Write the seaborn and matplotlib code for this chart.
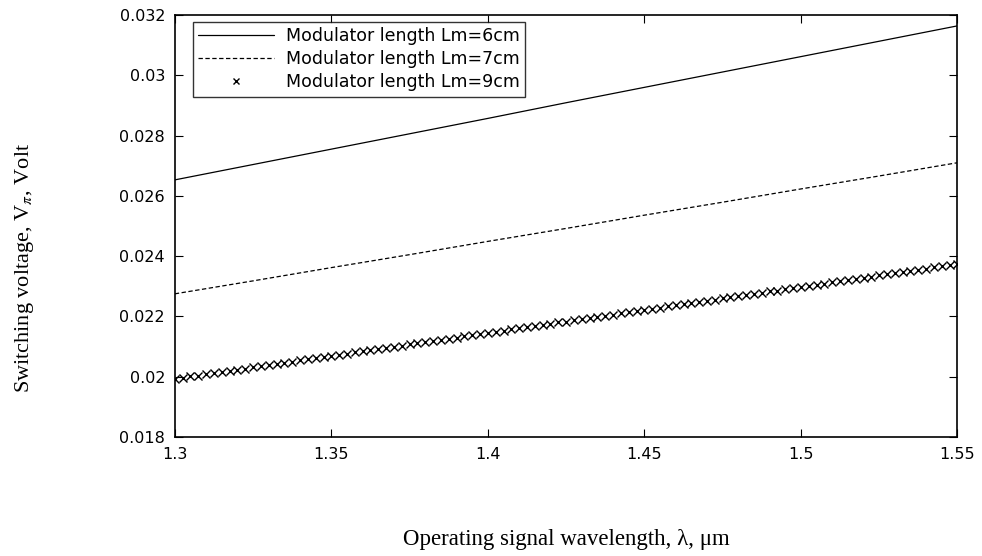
import seaborn as sns
import pandas as pd
import matplotlib.pyplot as plt
import numpy as np

# knot values (wavelength in um, voltage in V)
wl_knots = [1.300, 1.325, 1.350, 1.375, 1.400, 1.425, 1.450, 1.475, 1.500, 1.525, 1.550]
v_6cm = [0.02653, 0.02704, 0.02755, 0.02806, 0.02857, 0.02909, 0.02960, 0.03011, 0.03062, 0.03113, 0.03164]
v_7cm = [0.02275, 0.02318, 0.02362, 0.02405, 0.02449, 0.02492, 0.02536, 0.02579, 0.02623, 0.02666, 0.02710]

# the 9cm curve is sampled densely (markers every 0.0025 um)
wl_dense = np.linspace(1.3, 1.55, 101)
v_9cm = [0.01993, 0.01997, 0.02001, 0.02004, 0.02008, 0.02012, 0.02016, 0.02020, 0.02023, 0.02027,
         0.02031, 0.02035, 0.02039, 0.02043, 0.02046, 0.02050, 0.02054, 0.02058, 0.02062, 0.02065,
         0.02069, 0.02073, 0.02077, 0.02081, 0.02084, 0.02088, 0.02092, 0.02096, 0.02100, 0.02103,
         0.02107, 0.02111, 0.02115, 0.02119, 0.02123, 0.02126, 0.02130, 0.02134, 0.02138, 0.02142,
         0.02145, 0.02149, 0.02153, 0.02157, 0.02161, 0.02164, 0.02168, 0.02172, 0.02176, 0.02180,
         0.02183, 0.02187, 0.02191, 0.02195, 0.02199, 0.02203, 0.02206, 0.02210, 0.02214, 0.02218,
         0.02222, 0.02225, 0.02229, 0.02233, 0.02237, 0.02241, 0.02244, 0.02248, 0.02252, 0.02256,
         0.02260, 0.02264, 0.02267, 0.02271, 0.02275, 0.02279, 0.02283, 0.02286, 0.02290, 0.02294,
         0.02298, 0.02302, 0.02305, 0.02309, 0.02313, 0.02317, 0.02321, 0.02324, 0.02328, 0.02332,
         0.02336, 0.02340, 0.02344, 0.02347, 0.02351, 0.02355, 0.02359, 0.02363, 0.02366, 0.02370,
         0.02374]

labels = ["Modulator length Lm=6cm", "Modulator length Lm=7cm", "Modulator length Lm=9cm"]
xticks = [1.3, 1.35, 1.4, 1.45, 1.5, 1.55]
xtick_labels = ["1.3", "1.35", "1.4", "1.45", "1.5", "1.55"]
yticks = [0.018, 0.02, 0.022, 0.024, 0.026, 0.028, 0.03, 0.032]
ytick_labels = ["0.018", "0.02", "0.022", "0.024", "0.026", "0.028", "0.03", "0.032"]

sns.set_theme(style="ticks")
plt.rcParams['font.family'] = ['DejaVu Sans']
plt.rcParams['mathtext.fontset'] = 'stix'
plt.rcParams['text.color'] = 'black'

fig = plt.figure(figsize=(9.82, 5.56), dpi=100)
ax = fig.add_axes([0.178, 0.214, 0.797, 0.759])

df6 = pd.DataFrame({'wl': wl_knots, 'v': v_6cm})
df7 = pd.DataFrame({'wl': wl_knots, 'v': v_7cm})
df9 = pd.DataFrame({'wl': wl_dense, 'v': v_9cm})

sns.lineplot(x='wl', y='v', data=df6, ax=ax, color='black', linewidth=0.9)
sns.lineplot(x='wl', y='v', data=df7, ax=ax, color='black', linewidth=0.9,
             linestyle=(0, (3.5, 2)))
sns.lineplot(x='wl', y='v', data=df9, ax=ax, color='black', linestyle='none',
             marker='x', markersize=5.5, markeredgewidth=1.0,
             markeredgecolor='black')

ax.set_xlim(1.3, 1.55)
ax.set_ylim(0.018, 0.032)
ax.set_xticks(xticks, xtick_labels)
ax.set_yticks(yticks, ytick_labels)
ax.tick_params(direction='in', top=True, right=True, length=6, width=0.8,
               labelsize=11.5, colors='black', pad=7)
for s in ax.spines.values():
    s.set_linewidth(1.2)
    s.set_color('black')

ax.set_xlabel('')
ax.set_ylabel('')
fig.text(566 / 982, 1 - 540 / 556, 'Operating signal wavelength, λ, μm', family='Liberation Serif',
         fontsize=16.5, ha='center', va='center', color='black')
fig.text(0.025, 1 - 393 / 556, 'Switching voltage, V$_{\\pi}$, Volt', family='Liberation Serif',
         fontsize=16, rotation=90, ha='center', va='bottom', color='black')

handles = ax.get_lines()
leg = ax.legend(handles, labels, loc='upper left', bbox_to_anchor=(0.023, 0.984),
                fontsize=12.5, frameon=True, fancybox=False, edgecolor='black',
                borderpad=0.3, labelspacing=0.3, handlelength=4.4, handletextpad=0.65,
                borderaxespad=0)
leg.get_frame().set_linewidth(1.0)
leg.legend_handles[2].set_markersize(4.5)
for t in leg.get_texts():
    t.set_color('black')

fig.savefig('out.png', dpi=100)
